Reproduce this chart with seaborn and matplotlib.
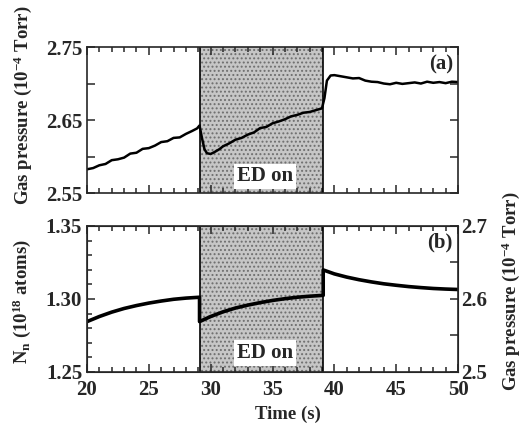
import numpy as np
import pandas as pd
import seaborn as sns
import matplotlib
matplotlib.use("Agg")
import matplotlib.pyplot as plt
from matplotlib.ticker import MultipleLocator

# panel (a): measured gas pressure (1e-4 Torr)
t_a = [20.0, 20.5, 21.0, 21.5, 22.0, 22.5, 23.0, 23.5, 24.0, 24.5, 25.0, 25.5,
       26.0, 26.5, 27.0, 27.5, 28.0, 28.5, 28.9, 29.1, 29.3, 29.5, 29.7, 30.0,
       30.3, 30.7, 31.0, 31.5, 32.0, 32.5, 33.0, 33.5, 34.0, 34.5, 35.0, 35.5,
       36.0, 36.5, 37.0, 37.5, 38.0, 38.5, 39.0, 39.2, 39.4, 39.7, 40.0, 40.5,
       41.0, 41.5, 42.0, 42.5, 43.0, 43.5, 44.0, 44.5, 45.0, 45.5, 46.0, 46.5,
       47.0, 47.5, 48.0, 48.5, 49.0, 49.5, 50.0]
p_a = [2.5825, 2.5842, 2.5880, 2.5898, 2.5950, 2.5962, 2.5985, 2.6040, 2.6052,
       2.6105, 2.6115, 2.6150, 2.6198, 2.6210, 2.6255, 2.6262, 2.6310, 2.6350,
       2.6385, 2.6425, 2.6250, 2.6100, 2.6045, 2.6035, 2.6060, 2.6100, 2.6140,
       2.6180, 2.6230, 2.6255, 2.6300, 2.6330, 2.6390, 2.6405, 2.6455, 2.6480,
       2.6510, 2.6550, 2.6570, 2.6600, 2.6610, 2.6635, 2.6660, 2.6800, 2.7040,
       2.7110, 2.7115, 2.7100, 2.7085, 2.7070, 2.7075, 2.7040, 2.7025, 2.7020,
       2.7000, 2.6990, 2.7010, 2.6995, 2.7005, 2.7015, 2.7000, 2.7025, 2.7010,
       2.7020, 2.7005, 2.7025, 2.7020]

# panel (b): neutral atoms N_n (1e18 atoms)
t_b = [20, 21, 22, 23, 24, 25, 26, 27, 28, 29.1, 29.1, 30, 31, 32, 33, 34, 35,
       36, 37, 38, 39.1, 39.1, 40, 41, 42, 43, 44, 45, 46, 47, 48, 49, 50]
n_b = [1.2845, 1.2880, 1.2910, 1.2935, 1.2955, 1.2972, 1.2986, 1.2998, 1.3006,
       1.3012, 1.2845, 1.2880, 1.2912, 1.2938, 1.2958, 1.2975, 1.2990, 1.3002,
       1.3012, 1.3019, 1.3025, 1.3199, 1.3172, 1.3150, 1.3132, 1.3117, 1.3104,
       1.3094, 1.3085, 1.3078, 1.3072, 1.3068, 1.3065]

ed_on = (29.1, 39.1)

sns.set_style("ticks")
plt.rcParams["font.family"] = ["Liberation Serif", "DejaVu Serif"]
plt.rcParams["font.weight"] = "bold"
plt.rcParams["mathtext.fontset"] = "custom"
plt.rcParams["mathtext.rm"] = "Liberation Serif:bold"
plt.rcParams["mathtext.bf"] = "Liberation Serif:bold"
plt.rcParams["mathtext.it"] = "Liberation Serif:bold"
plt.rcParams["mathtext.default"] = "bf"
plt.rcParams["hatch.linewidth"] = 0.9

fs = 15
lfs = 13.5
fig = plt.figure(figsize=(5.25, 4.26), dpi=100)
ax1 = fig.add_axes([0.1657, 0.5469, 0.7067, 0.3427])
ax2 = fig.add_axes([0.1657, 0.1268, 0.7067, 0.3427])

df_a = pd.DataFrame({"t": t_a, "p": p_a})
df_b = pd.DataFrame({"t": t_b, "n": n_b})

for ax in (ax1, ax2):
    ax.axvspan(*ed_on, facecolor="#c6c6c6", edgecolor="#6e6e6e", hatch="....",
               lw=0, zorder=0)
    for xv in ed_on:
        ax.axvline(xv, color="black", lw=1.2, zorder=1)
    ax.set_xlim(20, 50)
    ax.xaxis.set_major_locator(MultipleLocator(5))
    ax.xaxis.set_minor_locator(MultipleLocator(1))
    for s in ax.spines.values():
        s.set_linewidth(1.2)

sns.lineplot(data=df_a, x="t", y="p", ax=ax1, color="black", lw=1.8,
             sort=False, estimator=None)
sns.lineplot(data=df_b, x="t", y="n", ax=ax2, color="black", lw=2.6,
             sort=False, estimator=None)

ax1.set_ylim(2.55, 2.75)
ax1.set_yticks([2.55, 2.60, 2.65, 2.70, 2.75], labels=["2.55", "", "2.65", "", "2.75"])
ax1.tick_params(which="both", direction="in", top=True, right=True, labelbottom=False,
                labelsize=fs, width=1.1)
ax1.tick_params(which="major", length=6)
ax1.tick_params(which="minor", length=3.5)
ax1.set_xlabel("")
ax1.set_ylabel("")

ax2.set_ylim(1.25, 1.35)
ax2.set_yticks([1.25, 1.30, 1.35], labels=["1.25", "1.30", "1.35"])
ax2.yaxis.set_minor_locator(MultipleLocator(0.01))
ax2.set_xticks([20, 25, 30, 35, 40, 45, 50], labels=["20", "25", "30", "35", "40", "45", "50"])
ax2.tick_params(which="both", direction="in", top=True, right=False, labelsize=fs, width=1.1)
ax2.tick_params(which="major", length=6)
ax2.tick_params(which="minor", length=3.5)
ax2.tick_params(axis="x", pad=6)
ax2.set_xlabel("")
ax2.set_ylabel("")

ax3 = ax2.twinx()
ax3.set_ylim(2.5, 2.7)
ax3.set_yticks([2.5, 2.55, 2.6, 2.65, 2.7], labels=["2.5", "", "2.6", "", "2.7"])
ax3.tick_params(direction="in", length=6, width=1.1, labelsize=fs, pad=2)

box = dict(facecolor="white", edgecolor="none", pad=2)
ax1.text(34.4, 2.573, "ED on", ha="center", va="center", fontsize=fs, bbox=box)
ax2.text(34.4, 1.263, "ED on", ha="center", va="center", fontsize=fs, bbox=box)
ax1.text(0.986, 0.88, "(a)", transform=ax1.transAxes, ha="right", va="center", fontsize=fs)
ax2.text(0.986, 0.89, "(b)", transform=ax2.transAxes, ha="right", va="center", fontsize=fs)

fig.text(0.044, 1 - 105 / 426, "Gas pressure (10$^{-4}$ Torr)", rotation=90,
         ha="center", va="center", fontsize=lfs)
fig.text(0.042, 1 - 302 / 426, "N$_n$ (10$^{18}$ atoms)", rotation=90,
         ha="center", va="center", fontsize=lfs)
fig.text(511 / 525, 1 - 291 / 426, "Gas pressure (10$^{-4}$ Torr)", rotation=90,
         ha="center", va="center", fontsize=lfs)
fig.text(288 / 525, 1 - 414 / 426, "Time (s)", ha="center", va="center", fontsize=lfs)

fig.savefig("out.png", dpi=100)
